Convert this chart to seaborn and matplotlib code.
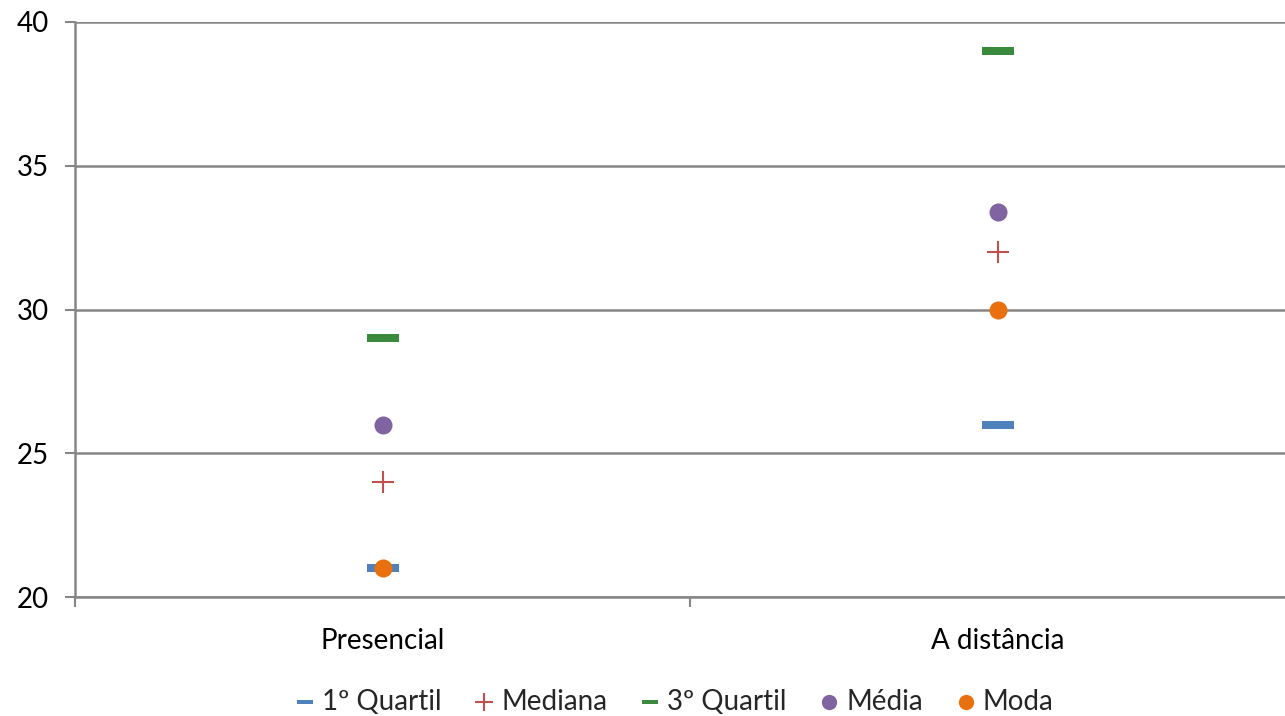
import matplotlib
matplotlib.use("Agg")
import matplotlib.pyplot as plt
import seaborn as sns
import pandas as pd

# Summary statistics by course modality
categories = ["Presencial", "A distância"]
primeiro_quartil = [21, 26]
mediana = [24, 32]
terceiro_quartil = [29, 39]
media = [26, 33.4]
moda = [21, 30]

series_names = ["1º Quartil", "Mediana", "3º Quartil", "Média", "Moda"]
series_values = [primeiro_quartil, mediana, terceiro_quartil, media, moda]

sns.set_theme(style="white")
plt.rcParams["font.family"] = ["Lato", "DejaVu Sans"]

dash = [(-4, -1), (4, -1), (4, 1), (-4, 1), (-4, -1)]
styles = {
    "1º Quartil": dict(marker=dash, s=23 ** 2, color="#4F81BD", linewidth=0),
    "Mediana": dict(marker="+", s=16 ** 2, color="#C0504D", linewidth=1.5),
    "3º Quartil": dict(marker=dash, s=23 ** 2, color="#3A8A3E", linewidth=0),
    "Média": dict(marker="o", s=13 ** 2, color="#8064A2", linewidth=0),
    "Moda": dict(marker="o", s=13 ** 2, color="#E8700F", linewidth=0),
}
legend_sizes = {"1º Quartil": 11, "Mediana": 13, "3º Quartil": 11, "Média": 11, "Moda": 11}

fig = plt.figure(figsize=(12.85, 7.16), dpi=100)
ax = fig.add_axes([75 / 1285, 1 - 597 / 716, 1230 / 1285, 575 / 716])

for name, values in zip(series_names, series_values):
    df = pd.DataFrame({"categoria": categories, "valor": values})
    sns.scatterplot(data=df, x="categoria", y="valor", ax=ax, label=name,
                    zorder=3, clip_on=False, **styles[name])

ax.set_xlim(-0.5, 1.5)
ax.set_ylim(20, 40)
ax.set_yticks([20, 25, 30, 35, 40])
ax.set_xlabel("")
ax.set_ylabel("")

grid_color = "#868686"
ax.yaxis.grid(True, color=grid_color, linewidth=1.8)
ax.set_axisbelow(True)
for side in ["top", "right"]:
    ax.spines[side].set_visible(False)
for side in ["left", "bottom"]:
    ax.spines[side].set_color(grid_color)
    ax.spines[side].set_linewidth(1.8)

ax.tick_params(axis="y", which="major", length=7, width=1.5, color=grid_color,
               direction="out", left=True, labelsize=20, labelcolor="#000000", pad=12)
ax.tick_params(axis="x", which="major", length=0, labelsize=20, labelcolor="#000000", pad=22)
ax.set_xticks([-0.5, 0.5, 1.5], minor=True)
ax.tick_params(axis="x", which="minor", length=7, width=1.5, color=grid_color,
               direction="out", bottom=True)

handles, labels = ax.get_legend_handles_labels()
if ax.legend_:
    ax.legend_.remove()
leg = fig.legend(handles, labels, loc="lower center", bbox_to_anchor=(0.522, -0.033),
                 ncol=5, frameon=False, fontsize=20, handletextpad=0.0,
                 handlelength=1.2, columnspacing=0.95)
for handle, label in zip(leg.legend_handles, labels):
    handle.set_sizes([legend_sizes[label] ** 2])

fig.savefig("out.png", dpi=100)
